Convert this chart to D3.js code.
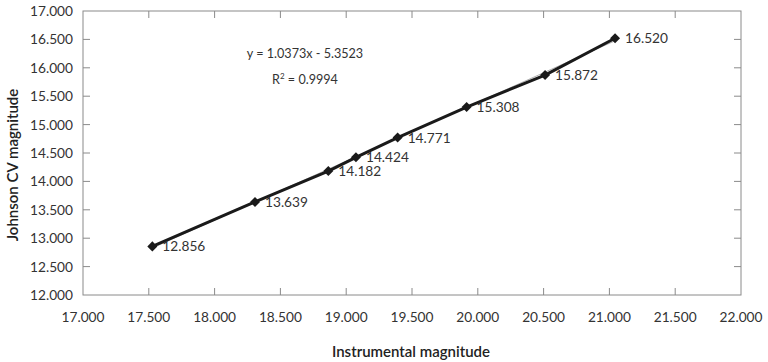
<!DOCTYPE html>
<html>
<head>
<script src="https://d3js.org/d3.v7.min.js"></script>
<style>
  body { margin: 0; background: #fff; }
  text { font-family: Lato, "Open Sans", sans-serif; }
  .tick-label { font-size: 13.7px; fill: #333; }
  .axis-title { font-size: 15px; fill: #222; font-weight: 600; }
  .point-label { font-size: 13.7px; fill: #333; }
  .eq { font-size: 12.6px; fill: #333; }
</style>
</head>
<body>
<svg id="chart" width="768" height="362"></svg>
<script>
// instrumental magnitude vs Johnson CV magnitude
const instMag = [17.527, 18.307, 18.864, 19.074, 19.391, 19.915, 20.511, 21.043];
const cvMag = [12.856, 13.639, 14.182, 14.424, 14.771, 15.308, 15.872, 16.520];
const xTicks = [17, 17.5, 18, 18.5, 19, 19.5, 20, 20.5, 21, 21.5, 22];
const yTicks = [12, 12.5, 13, 13.5, 14, 14.5, 15, 15.5, 16, 16.5, 17];
const slope = 1.0373, intercept = -5.3523, r2 = 0.9994;

const plotL = 83, plotR = 741, plotT = 11, plotB = 295;
const tickLen = 7;

const svg = d3.select("#chart");
const xs = d3.scaleLinear().domain([17, 22]).range([plotL, plotR]);
const ys = d3.scaleLinear().domain([12, 17]).range([plotB, plotT]);
const fmt = d3.format(".3f");

// frame
svg.append("rect")
  .attr("x", plotL).attr("y", plotT)
  .attr("width", plotR - plotL).attr("height", plotB - plotT)
  .attr("fill", "none").attr("stroke", "#8a8a8a").attr("stroke-width", 1);

// inward ticks on all four sides
const innerX = xTicks.slice(1, -1);
const innerY = yTicks.slice(1, -1);
const tk = svg.append("g").attr("stroke", "#8a8a8a").attr("stroke-width", 1);
innerX.forEach(function(v) {
  tk.append("line").attr("x1", xs(v)).attr("x2", xs(v)).attr("y1", plotB).attr("y2", plotB - tickLen);
  tk.append("line").attr("x1", xs(v)).attr("x2", xs(v)).attr("y1", plotT).attr("y2", plotT + tickLen);
});
innerY.forEach(function(v) {
  tk.append("line").attr("x1", plotL).attr("x2", plotL + tickLen).attr("y1", ys(v)).attr("y2", ys(v));
  tk.append("line").attr("x1", plotR).attr("x2", plotR - tickLen).attr("y1", ys(v)).attr("y2", ys(v));
});

// tick labels
svg.selectAll(".xl").data(xTicks).enter().append("text")
  .attr("class", "tick-label")
  .attr("x", function(d){ return xs(d); })
  .attr("y", 322)
  .attr("text-anchor", "middle")
  .text(fmt);

svg.selectAll(".yl").data(yTicks).enter().append("text")
  .attr("class", "tick-label")
  .attr("x", 73)
  .attr("y", function(d){ return ys(d) + 5; })
  .attr("text-anchor", "end")
  .text(fmt);

// axis titles
svg.append("text")
  .attr("class", "axis-title")
  .attr("x", 411).attr("y", 357)
  .attr("text-anchor", "middle")
  .text("Instrumental magnitude");

svg.append("text")
  .attr("class", "axis-title")
  .attr("transform", "rotate(-90)")
  .attr("x", -165).attr("y", 18)
  .attr("text-anchor", "middle")
  .text("Johnson CV magnitude");

// linear trendline
const x0 = d3.min(instMag), x1 = d3.max(instMag);
svg.append("line")
  .attr("x1", xs(x0)).attr("y1", ys(slope * x0 + intercept))
  .attr("x2", xs(x1)).attr("y2", ys(slope * x1 + intercept))
  .attr("stroke", "#b0b0b0").attr("stroke-width", 1);

// data line
const pts = instMag.map(function(x, i){ return [x, cvMag[i]]; });
svg.append("path")
  .datum(pts)
  .attr("fill", "none")
  .attr("stroke", "#1a1a1a")
  .attr("stroke-width", 3)
  .attr("stroke-linejoin", "round")
  .attr("d", d3.line().x(function(d){ return xs(d[0]); }).y(function(d){ return ys(d[1]); }));

// markers
svg.selectAll(".pt").data(pts).enter().append("path")
  .attr("d", d3.symbol().type(d3.symbolDiamond2).size(64))
  .attr("transform", function(d){ return "translate(" + xs(d[0]) + "," + ys(d[1]) + ")"; })
  .attr("fill", "#1a1a1a");

svg.selectAll(".pl").data(pts).enter().append("text")
  .attr("class", "point-label")
  .attr("x", function(d){ return xs(d[0]) + 10; })
  .attr("y", function(d){ return ys(d[1]) + 5; })
  .text(function(d){ return fmt(d[1]); });

// equation
svg.append("text").attr("class", "eq")
  .attr("x", 305).attr("y", 58).attr("text-anchor", "middle")
  .text("y = " + slope + "x - " + Math.abs(intercept));
const r = svg.append("text").attr("class", "eq")
  .attr("x", 305).attr("y", 84).attr("text-anchor", "middle");
r.append("tspan").text("R");
r.append("tspan").attr("dy", -5).attr("font-size", "8px").text("2");
r.append("tspan").attr("dy", 5).text(" = " + r2);
</script>
</body>
</html>
